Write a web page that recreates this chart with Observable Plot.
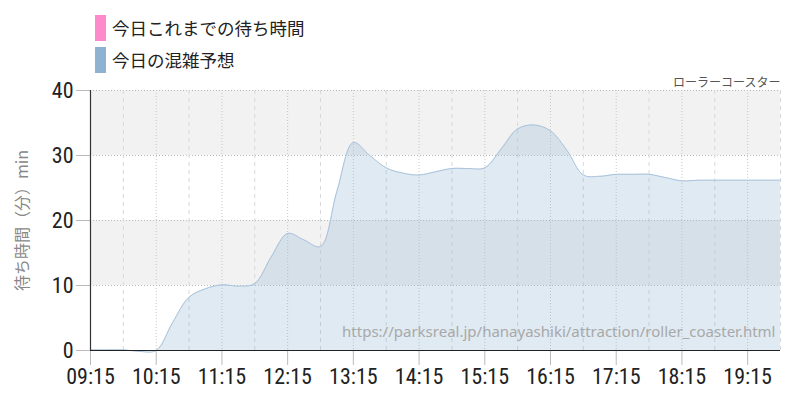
<!DOCTYPE html>
<html><head><meta charset="utf-8">
<script src="https://cdn.jsdelivr.net/npm/d3@7"></script>
<script src="https://cdn.jsdelivr.net/npm/@observablehq/plot@0.6"></script>
<style>
body{margin:0;background:#fff;width:800px;height:400px;overflow:hidden;font-family:"Noto Sans CJK JP",sans-serif;}
#legend{position:relative;height:70px;}
.item{position:absolute;left:95px;display:flex;align-items:center;font-size:17.5px;color:#222;line-height:26px;}
.sw{width:11px;height:26px;margin-right:6px;}
#chart svg{display:block;}
</style></head><body>
<div id="legend"></div>
<div id="chart"></div>
<script>
// ---- data ----
const times = ["09:15","09:30","09:45","10:00","10:15","10:30","10:45","11:00","11:15","11:30","11:45","12:00","12:15","12:30","12:45","13:00","13:15","13:30","13:45","14:00","14:15","14:30","14:45","15:00","15:15","15:30","15:45","16:00","16:15","16:30","16:45","17:00","17:15","17:30","17:45","18:00","18:15","18:30","18:45","19:00","19:15","19:30","19:45"];
const forecast = [0.1,0.1,0.1,-0.15,0,4.3,8.2,9.5,10.1,9.9,10.3,14.4,18.0,17.0,16.0,24.5,32.0,30.0,28.1,27.3,27.0,27.5,28.0,28.0,28.1,31.0,34.1,34.7,33.8,30.8,27.0,26.8,27.1,27.1,27.1,26.6,26.1,26.2,26.2,26.2,26.2,26.2,26.2];
const todayTimes = [];
const todayWaits = [];
const seriesNames = ["今日これまでの待ち時間","今日の混雑予想"];
const seriesColors = ["#ff8acb","#8fb2d1"];
const xStart = "09:15", xEnd = "19:45";
const xTickLabels = ["09:15","10:15","11:15","12:15","13:15","14:15","15:15","16:15","17:15","18:15","19:15"];
const xHalfLines = ["09:45","10:45","11:45","12:45","13:45","14:45","15:45","16:45","17:45","18:45","19:45"];
const yTicks = [0,10,20,30,40];
const bandLow = [10,30];
const bandHigh = [20,40];
const yLabel = "待ち時間（分）min";
const attraction = "ローラーコースター";
const sourceUrl = "https://parksreal.jp/hanayashiki/attraction/roller_coaster.html";

// ---- legend ----
const legend = document.getElementById("legend");
seriesNames.forEach((n,i)=>{
  const d = document.createElement("div");
  d.className="item"; d.style.top = (15 + i*32) + "px";
  d.innerHTML = `<span class="sw" style="background:${seriesColors[i]}"></span><span>${n}</span>`;
  legend.appendChild(d);
});

// ---- chart ----
const parse = d3.utcParse("%H:%M");
const fc = times.map((t,i)=>({t:parse(t), v:forecast[i]}));
const today = todayTimes.map((t,i)=>({t:parse(t), v:todayWaits[i]}));
const x0 = parse(xStart), x1 = parse(xEnd);
const bands = bandLow.map((l,i)=>({y1:l,y2:bandHigh[i]}));
const tickDates = xTickLabels.map(parse);
const halfDates = xHalfLines.map(parse);
const cond = "'Roboto Condensed','Liberation Sans Narrow','DejaVu Sans Condensed',Roboto,sans-serif";
const jp = "'Noto Sans CJK JP',sans-serif";

const chart = Plot.plot({
  width: 800, height: 330,
  marginTop: 20, marginBottom: 50, marginLeft: 90, marginRight: 20,
  style: {fontFamily: cond, color: "#222", background: "#fff"},
  x: {type: "utc", domain: [x0, x1]},
  y: {domain: [0, 40]},
  marks: [
    Plot.rect(bands, {x1: () => x0, x2: () => x1, y1: "y1", y2: "y2", fill: "#f2f2f2"}),
    Plot.ruleY(yTicks, {stroke: "#bbb", strokeDasharray: "1,2"}),
    Plot.ruleX(tickDates, {stroke: "#c8c8c8", strokeDasharray: "1,2"}),
    Plot.ruleX(halfDates, {stroke: "#d8d8d8", strokeDasharray: "4,4"}),
    Plot.areaY(fc, {x: "t", y: "v", fill: seriesColors[1], fillOpacity: 0.28, curve: "catmull-rom"}),
    Plot.lineY(fc, {x: "t", y: "v", stroke: "#a8c2db", strokeWidth: 1, curve: "catmull-rom"}),
    Plot.lineY(today, {x: "t", y: "v", stroke: seriesColors[0], strokeWidth: 2, curve: "catmull-rom"}),
    Plot.axisY({ticks: yTicks, tickSize: 14, tickPadding: 3, stroke: "#bbb", fill: "#222", fontSize: 22, label: null}),
    Plot.axisX({ticks: tickDates, tickSize: 15, tickPadding: 3, stroke: "#bbb", fill: "#222", fontSize: 22, tickFormat: d3.utcFormat("%H:%M"), label: null}),
    Plot.ruleX([x0], {stroke: "#333", strokeWidth: 1.2}),
    Plot.ruleY([0], {stroke: "#222", strokeWidth: 1.2}),
    Plot.text([attraction], {frameAnchor: "top-right", dy: -12, textAnchor: "end", fontSize: 12, fill: "#555", fontFamily: jp}),
    Plot.text([sourceUrl], {frameAnchor: "bottom-right", dx: -5, dy: -14, textAnchor: "end", fontSize: 15, fill: "#a8a8a8", fontFamily: "'Noto Sans',sans-serif"}),
    Plot.text([yLabel], {frameAnchor: "left", dx: -68, rotate: -90, textAnchor: "middle", fontSize: 16, fill: "#888", fontFamily: jp})
  ]
});
document.getElementById("chart").appendChild(chart);
</script>
</body></html>
